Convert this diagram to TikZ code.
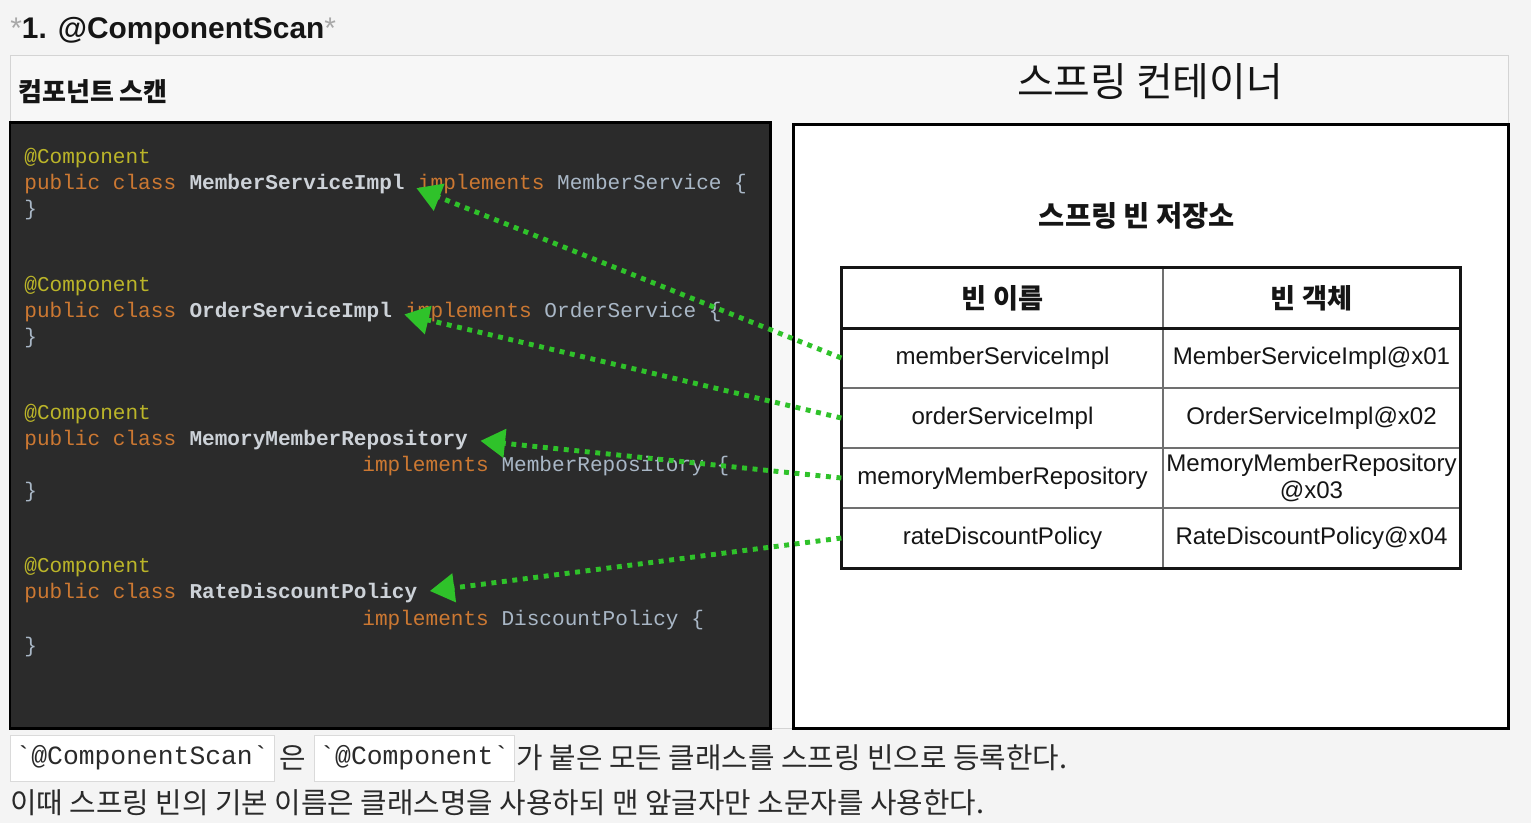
\documentclass[tikz,border=0pt]{standalone}
\usepackage{fontspec}
\setmainfont{Liberation Sans}
\setmonofont{Liberation Mono}
\newfontfamily\kr{Noto Sans CJK KR}
\usetikzlibrary{arrows.meta,positioning}
\definecolor{PageBg}{HTML}{F4F4F4}
\definecolor{PanelBg}{HTML}{F7F7F7}
\definecolor{PanelLine}{HTML}{D4D4D4}
\definecolor{CodeBg}{HTML}{2B2B2B}
\definecolor{Anno}{HTML}{BBB529}
\definecolor{Kwd}{HTML}{CC7832}
\definecolor{Ident}{HTML}{A9B7C6}
\definecolor{ClsName}{HTML}{CDD2D8}
\definecolor{BeanGreen}{HTML}{2FC22A}
\definecolor{TableLine}{HTML}{707070}
\definecolor{Ink}{HTML}{151515}
\definecolor{NoteInk}{HTML}{2A2A2A}
\definecolor{Star}{HTML}{A8A8A8}
\definecolor{ChipLine}{HTML}{DADADA}
\newcommand{\anno}[1]{\textcolor{Anno}{#1}}
\newcommand{\kwd}[1]{\textcolor{Kwd}{#1}}
\def\cgap{7.2pt}
\tikzset{
  code/.style={inner sep=0pt, anchor=base west, text=Ident,
    font=\ttfamily\fontsize{12}{15}\selectfont},
  clsname/.style={text=ClsName, font=\ttfamily\bfseries\fontsize{12}{15}\selectfont},
  namecell/.style={draw=TableLine, line width=0.8pt, inner sep=0pt,
    minimum width=6.42cm, minimum height=1.2cm, align=center, text=Ink,
    font=\fontsize{13.7}{15}\selectfont},
  objcell/.style={namecell, minimum width=5.94cm},
  headcell/.style={font=\kr\bfseries\fontsize{15.5}{18}\selectfont},
  beanflow/.style={-{Triangle[length=14pt,width=16pt]}, draw=BeanGreen,
    line width=2.8pt, dash pattern=on 2.8pt off 3.2pt, shorten >=7pt},
  chip/.style={draw=ChipLine, fill=white, inner xsep=3pt, inner ysep=0pt,
    minimum height=0.92cm, text=NoteInk, font=\ttfamily\fontsize{15}{18}\selectfont},
  note/.style={inner sep=0pt, text=NoteInk, font=\kr\fontsize{16.4}{19}\selectfont}
}
\begin{document}
\begin{tikzpicture}[x=0.02cm,y=-0.02cm]
  \useasboundingbox[fill=PageBg] (0,0) rectangle (1531,823);
  % heading and outer panel
  \node[anchor=base west, inner sep=0pt, text=Ink, font=\bfseries\fontsize{17}{20}\selectfont]
    (title) at (10,38) {\textcolor{Star}{\mdseries*}1. @ComponentScan\textcolor{Star}{\mdseries*}};
  \draw[draw=PanelLine, fill=PanelBg] (10,55) rectangle (1508,728);
  \node[anchor=west, inner sep=0pt, text=Ink, font=\kr\bfseries\fontsize{14.8}{17}\selectfont]
    (scan) at (18,92) {컴포넌트 스캔};
  \node[inner sep=0pt, text=Ink, font=\kr\fontsize{22.7}{26}\selectfont]
    (container) at (1150,82) {스프링 컨테이너};

  % code panel
  \draw[fill=CodeBg, draw=black, line width=1.7pt] (10,122) rectangle (770,728);
  \node[code] (a1) at (24,163) {\anno{@Component}};
  \node[code] (p1) at (24,189) {\kwd{public class}};
  \node[code,clsname] (c1) at ([xshift=\cgap]p1.base east) {MemberServiceImpl};
  \node[code] (i1) at ([xshift=\cgap]c1.base east) {\kwd{implements} MemberService \{};
  \node[code] (b1) at (24,215) {\}};

  \node[code] (a2) at (24,291) {\anno{@Component}};
  \node[code] (p2) at (24,317) {\kwd{public class}};
  \node[code,clsname] (c2) at ([xshift=\cgap]p2.base east) {OrderServiceImpl};
  \node[code] (i2) at ([xshift=\cgap]c2.base east) {\kwd{implements} OrderService \{};
  \node[code] (b2) at (24,343) {\}};

  \node[code] (a3) at (24,419) {\anno{@Component}};
  \node[code] (p3) at (24,445) {\kwd{public class}};
  \node[code,clsname] (c3) at ([xshift=\cgap]p3.base east) {MemoryMemberRepository};
  \node[code] (i3) at (362,471) {\kwd{implements} MemberRepository \{};
  \node[code] (b3) at (24,497) {\}};

  \node[code] (a4) at (24,572) {\anno{@Component}};
  \node[code] (p4) at (24,598) {\kwd{public class}};
  \node[code,clsname] (c4) at ([xshift=\cgap]p4.base east) {RateDiscountPolicy};
  \node[code] (i4) at (362,625) {\kwd{implements} DiscountPolicy \{};
  \node[code] (b4) at (24,652) {\}};

  % container panel with bean table
  \draw[fill=white, draw=black, line width=1.7pt] (793,124) rectangle (1508,728);
  \node[inner sep=0pt, text=Ink, font=\kr\bfseries\fontsize{16.2}{19}\selectfont]
    (store) at (1137,216) {스프링 빈 저장소};
  \node[namecell,headcell] (hn) at (1002.5,298) {빈 이름};
  \node[objcell,headcell] (ho) at (1311.5,298) {빈 객체};
  \foreach \r/\y/\bname/\bobj in {1/358/memberServiceImpl/MemberServiceImpl@x01,
      2/418/orderServiceImpl/OrderServiceImpl@x02,
      3/478/memoryMemberRepository/{MemoryMemberRepository\\@x03},
      4/538/rateDiscountPolicy/RateDiscountPolicy@x04}{
    \node[namecell] (n\r) at (1002.5,\y) {\bname};
    \node[objcell] (o\r) at (1311.5,\y) {\bobj};
  }
  \draw[draw=Ink, line width=1.4pt] (hn.north west) rectangle (o4.south east);
  \draw[draw=Ink, line width=2pt] (hn.south west) -- (ho.south east);

  % scan arrows
  \draw[beanflow] (n1.west) -- (c1.east);
  \draw[beanflow] (n2.west) -- (c2.east);
  \draw[beanflow] (n3.west) -- (c3.east);
  \draw[beanflow] (n4.west) -- (c4.east);

  % notes below
  \node[chip, anchor=west] (chip1) at (10,758) {`@ComponentScan`};
  \node[note, right=3pt of chip1] (eun) {은};
  \node[chip, right=4pt of eun] (chip2) {`@Component`};
  \node[note, right=1pt of chip2] (note1) {가 붙은 모든 클래스를 스프링 빈으로 등록한다.};
  \node[note, anchor=west] (note2) at (10,803)
    {이때 스프링 빈의 기본 이름은 클래스명을 사용하되 맨 앞글자만 소문자를 사용한다.};
\end{tikzpicture}
\end{document}
